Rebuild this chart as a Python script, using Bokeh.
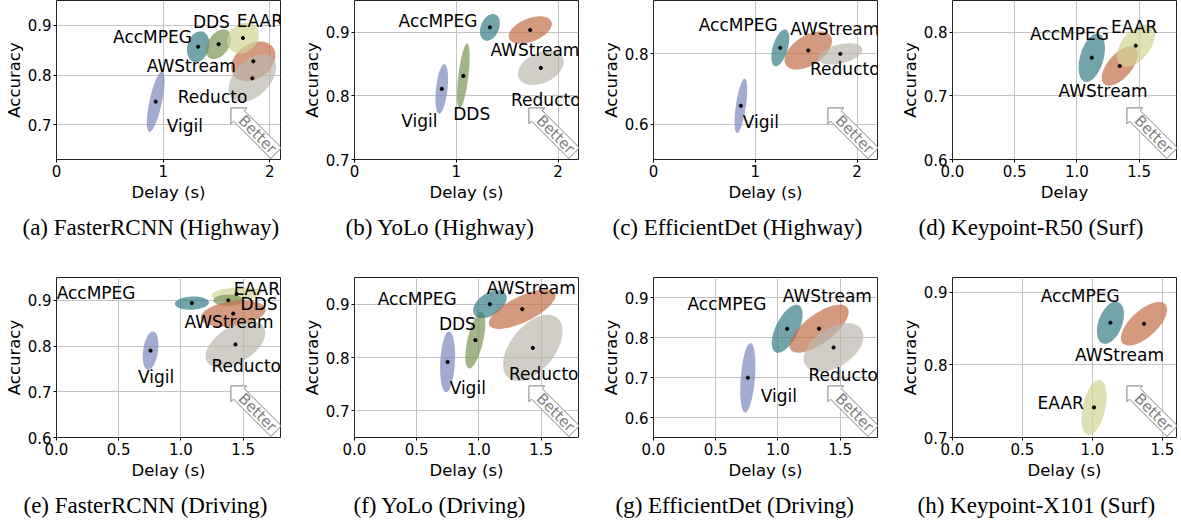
import numpy as np
from bokeh.plotting import figure
from bokeh.layouts import row, column
from bokeh.models import Range1d, Title, ColumnDataSource, FixedTicker
from bokeh.core.properties import value
from bokeh.embed import file_html
from bokeh.resources import INLINE

# ---------------- data ----------------
# (a) FasterRCNN (Highway)
a_methods = ["Vigil", "AccMPEG", "DDS", "AWStream", "EAAR", "Reducto"]
a_delay = [0.930, 1.328, 1.520, 1.845, 1.748, 1.836]
a_acc = [0.7465, 0.857, 0.862, 0.8276, 0.8745, 0.7934]
a_delay_sd = [0.083, 0.105, 0.119, 0.207, 0.149, 0.222]
a_acc_sd = [0.061, 0.031, 0.030, 0.040, 0.031, 0.048]
a_corr = [0.7, 0.2, 0.4, 0.3, 0.2, 0.45]

# (b) YoLo (Highway)
b_methods = ["Vigil", "AccMPEG", "DDS", "AWStream", "Reducto"]
b_delay = [0.857, 1.330, 1.069, 1.726, 1.830]
b_acc = [0.811, 0.9078, 0.8314, 0.9036, 0.844]
b_delay_sd = [0.062, 0.098, 0.062, 0.212, 0.225]
b_acc_sd = [0.039, 0.021, 0.051, 0.0215, 0.027]
b_corr = [0.4, 0.3, 0.6, 0.45, 0.35]

# (c) EfficientDet (Highway)
c_methods = ["Vigil", "AccMPEG", "AWStream", "Reducto"]
c_delay = [0.858, 1.245, 1.520, 1.835]
c_acc = [0.652, 0.816, 0.8085, 0.799]
c_delay_sd = [0.062, 0.088, 0.233, 0.218]
c_acc_sd = [0.077, 0.052, 0.054, 0.030]
c_corr = [0.6, 0.5, 0.5, 0.4]

# (d) Keypoint-R50 (Surf)
d_methods = ["AccMPEG", "AWStream", "EAAR"]
d_delay = [1.119, 1.344, 1.473]
d_acc = [0.760, 0.747, 0.779]
d_delay_sd = [0.106, 0.145, 0.152]
d_acc_sd = [0.038, 0.031, 0.033]
d_corr = [0.4, 0.6, 0.5]

# (e) FasterRCNN (Driving)
e_methods = ["Vigil", "AccMPEG", "EAAR", "DDS", "AWStream", "Reducto"]
e_delay = [0.756, 1.088, 1.447, 1.380, 1.420, 1.438]
e_acc = [0.790, 0.894, 0.914, 0.900, 0.871, 0.8035]
e_delay_sd = [0.063, 0.137, 0.200, 0.120, 0.260, 0.240]
e_acc_sd = [0.042, 0.0145, 0.0145, 0.0125, 0.029, 0.051]
e_corr = [0.3, 0.1, 0.2, 0.0, 0.3, 0.5]

# (f) YoLo (Driving)
f_methods = ["Vigil", "DDS", "AccMPEG", "AWStream", "Reducto"]
f_delay = [0.748, 0.971, 1.088, 1.348, 1.433]
f_acc = [0.7917, 0.8325, 0.900, 0.8906, 0.818]
f_delay_sd = [0.060, 0.080, 0.135, 0.268, 0.239]
f_acc_sd = [0.057, 0.053, 0.026, 0.037, 0.062]
f_corr = [0.2, 0.6, 0.45, 0.7, 0.5]

# (g) EfficientDet (Driving)
g_methods = ["Vigil", "AccMPEG", "AWStream", "Reducto"]
g_delay = [0.758, 1.074, 1.330, 1.447]
g_acc = [0.6994, 0.8218, 0.822, 0.775]
g_delay_sd = [0.061, 0.124, 0.238, 0.240]
g_acc_sd = [0.087, 0.060, 0.060, 0.061]
g_corr = [0.35, 0.6, 0.7, 0.45]

# (h) Keypoint-X101 (Surf)
h_methods = ["AccMPEG", "AWStream", "EAAR"]
h_delay = [1.128, 1.368, 1.011]
h_acc = [0.8578, 0.8564, 0.7414]
h_delay_sd = [0.097, 0.165, 0.090]
h_acc_sd = [0.029, 0.030, 0.038]
h_corr = [0.4, 0.65, 0.4]

# tick values / labels
x_ticks_int = [0, 1, 2]
x_labels_int = ["0", "1", "2"]
x_ticks_half = [0.0, 0.5, 1.0, 1.5]
x_labels_half = ["0.0", "0.5", "1.0", "1.5"]
y_ticks_789 = [0.7, 0.8, 0.9]
y_labels_789 = ["0.7", "0.8", "0.9"]
y_ticks_68 = [0.6, 0.8]
y_labels_68 = ["0.6", "0.8"]
y_ticks_678 = [0.6, 0.7, 0.8]
y_labels_678 = ["0.6", "0.7", "0.8"]
y_ticks_6789 = [0.6, 0.7, 0.8, 0.9]
y_labels_6789 = ["0.6", "0.7", "0.8", "0.9"]

# ---------------- styling / layout ----------------
COLORS = {"Vigil": "#7c88c1", "AccMPEG": "#387c88", "DDS": "#7c9556",
          "EAAR": "#d3d395", "AWStream": "#c16f4a", "Reducto": "#bab8ae"}
ALPHA = 0.7
SANS = "DejaVu Sans"
SERIF = "Liberation Serif"

# label placement (data coordinates, text centre)
a_label_pos = {"AccMPEG": (0.90, 0.877), "DDS": (1.452, 0.906), "EAAR": (1.906, 0.908),
               "AWStream": (1.264, 0.819), "Reducto": (1.463, 0.755), "Vigil": (1.203, 0.698)}
b_label_pos = {"AccMPEG": (0.82, 0.917), "AWStream": (1.772, 0.872), "Reducto": (1.879, 0.793),
               "DDS": (1.151, 0.771), "Vigil": (0.636, 0.760)}
c_label_pos = {"AccMPEG": (0.832, 0.880), "AWStream": (1.781, 0.870), "Reducto": (1.879, 0.755),
               "Vigil": (1.055, 0.605)}
d_label_pos = {"AccMPEG": (0.940, 0.797), "EAAR": (1.459, 0.808), "AWStream": (1.210, 0.707)}
e_label_pos = {"AccMPEG": (0.318, 0.916), "EAAR": (1.61, 0.9257), "DDS": (1.628, 0.8928),
               "AWStream": (1.387, 0.852), "Reducto": (1.525, 0.757), "Vigil": (0.80, 0.733)}
f_label_pos = {"AccMPEG": (0.504, 0.909), "AWStream": (1.42, 0.930), "DDS": (0.827, 0.863),
               "Reducto": (1.521, 0.769), "Vigil": (0.910, 0.742)}
g_label_pos = {"AccMPEG": (0.59, 0.885), "AWStream": (1.397, 0.903), "Reducto": (1.525, 0.706),
               "Vigil": (1.008, 0.653)}
h_label_pos = {"AccMPEG": (0.912, 0.895), "AWStream": (1.193, 0.813), "EAAR": (0.773, 0.748)}


def ellipse_xy(cx, cy, sx, sy, r, n=120):
    t = np.linspace(0, 2 * np.pi, n)
    xs = cx + sx * np.cos(t)
    ys = cy + sy * (r * np.cos(t) + np.sqrt(1 - r * r) * np.sin(t))
    return xs.tolist(), ys.tolist()


def add_better(p, xr, yr, fw, fh):
    pxx = fw / (xr[1] - xr[0])
    pxy = fh / (yr[1] - yr[0])
    cx = xr[1] - 23.0 / pxx
    cy = yr[0] + 25.0 / pxy
    h = 15.0
    L = 64.0
    hd = 0.75 * h
    sc = hd + (L - hd) / 2.0
    verts = [(0, 0), (hd, 0.75 * h), (hd, 0.5 * h), (L, 0.5 * h), (L, -0.5 * h),
             (hd, -0.5 * h), (hd, -0.75 * h)]
    k = 1 / np.sqrt(2)
    xs, ys = [], []
    for s, q in verts:
        rx = (s - sc) * k + q * k
        ry = -(s - sc) * k + q * k
        xs.append(cx + rx / pxx)
        ys.append(cy + ry / pxy)
    p.patch(xs, ys, fill_color="white", line_color="#808080", line_width=1)
    p.text(x=[cx], y=[cy], text=["Better"], angle=-np.pi / 4, text_align="center",
           text_baseline="middle", text_font=value(SANS), text_font_size=value("15px"),
           text_color="#808080")


def panel(methods, delay, acc, dsd, asd, corr, label_pos, xr, yr, xt, xtl, yt, ytl,
          xlabel, caption, cap_off, fw, fh, left, right, top, bottom):
    p = figure(frame_width=fw, frame_height=fh, min_border_left=left, min_border_right=right,
               min_border_top=top, min_border_bottom=bottom,
               x_range=Range1d(*xr), y_range=Range1d(*yr),
               toolbar_location=None, output_backend="svg", title=None)
    p.background_fill_color = "white"
    p.border_fill_color = "white"
    p.outline_line_color = "#222222"
    p.outline_line_width = 1

    xtk = FixedTicker(ticks=xt)
    ytk = FixedTicker(ticks=yt)
    p.xaxis.ticker = xtk
    p.yaxis.ticker = ytk
    p.xgrid.ticker = xtk
    p.ygrid.ticker = ytk
    p.xaxis.major_label_overrides = {t: l for t, l in zip(xt, xtl)}
    p.yaxis.major_label_overrides = {t: l for t, l in zip(yt, ytl)}
    for g in (p.xgrid, p.ygrid):
        g.grid_line_color = "#c4c4c4"
        g.grid_line_width = 1
    for ax in (p.xaxis, p.yaxis):
        ax.axis_line_color = None
        ax.major_tick_line_color = "black"
        ax.major_tick_out = 3
        ax.major_tick_in = 0
        ax.minor_tick_line_color = None
        ax.major_label_text_font = SANS
        ax.major_label_text_font_size = "15px"
        ax.major_label_text_color = "black"
        ax.axis_label_text_font = SANS
        ax.axis_label_text_font_size = "16.5px"
        ax.axis_label_text_font_style = "normal"
        ax.axis_label_text_color = "black"
    p.xaxis.major_label_standoff = 2
    p.xaxis.axis_label_standoff = 3
    p.yaxis.major_label_standoff = 2
    p.yaxis.axis_label_standoff = 1
    p.xaxis.axis_label = xlabel
    p.yaxis.axis_label = "Accuracy"

    for m, x, y, sx, sy, r in zip(methods, delay, acc, dsd, asd, corr):
        xs, ys = ellipse_xy(x, y, sx, sy, r)
        p.patch(xs, ys, fill_color=COLORS[m], fill_alpha=ALPHA, line_color=None)
    p.scatter(delay, acc, size=3.2, color="black")

    names = list(label_pos.keys())
    src = ColumnDataSource(dict(x=[label_pos[n][0] for n in names],
                                y=[label_pos[n][1] for n in names], t=names))
    p.text(x="x", y="y", text="t", source=src, text_align="center", text_baseline="middle",
           text_font=value(SANS), text_font_size=value("17px"), text_color="black")

    add_better(p, xr, yr, fw, fh)

    p.add_layout(Title(text=caption, align="left", offset=cap_off, text_font=SERIF,
                       text_font_size="23px", text_font_style="normal",
                       text_color="black", standoff=16), "below")
    return p


FH1, FH2 = 159, 160
LB = 56
pa = panel(a_methods, a_delay, a_acc, a_delay_sd, a_acc_sd, a_corr, a_label_pos,
           (0, 2.1), (0.63, 0.95), x_ticks_int, x_labels_int, y_ticks_789, y_labels_789,
           "Delay (s)", "(a) FasterRCNN (Highway)", -34, 224, FH1, LB, 18, 0, 60)
pb = panel(b_methods, b_delay, b_acc, b_delay_sd, b_acc_sd, b_corr, b_label_pos,
           (0, 2.2), (0.7, 0.95), x_ticks_int, x_labels_int, y_ticks_789, y_labels_789,
           "Delay (s)", "(b) YoLo (Highway)", -9, 224, FH1, LB, 19, 0, 60)
pc = panel(c_methods, c_delay, c_acc, c_delay_sd, c_acc_sd, c_corr, c_label_pos,
           (0, 2.2), (0.5, 0.95), x_ticks_int, x_labels_int, y_ticks_68, y_labels_68,
           "Delay (s)", "(c) EfficientDet (Highway)", -41, 224, FH1, LB, 19, 0, 60)
pd_ = panel(d_methods, d_delay, d_acc, d_delay_sd, d_acc_sd, d_corr, d_label_pos,
            (0, 1.8), (0.6, 0.85), x_ticks_half, x_labels_half, y_ticks_678, y_labels_678,
            "Delay", "(d) Keypoint-R50 (Surf)", -34, 224, FH1, LB, 1, 0, 60)
pe = panel(e_methods, e_delay, e_acc, e_delay_sd, e_acc_sd, e_corr, e_label_pos,
           (0, 1.8), (0.6, 0.95), x_ticks_half, x_labels_half, y_ticks_6789, y_labels_6789,
           "Delay (s)", "(e) FasterRCNN (Driving)", -33, 224, FH2, LB, 18, 30, 60)
pf = panel(f_methods, f_delay, f_acc, f_delay_sd, f_acc_sd, f_corr, f_label_pos,
           (0, 1.8), (0.65, 0.95), x_ticks_half, x_labels_half, y_ticks_789, y_labels_789,
           "Delay (s)", "(f) YoLo (Driving)", -1, 224, FH2, LB, 19, 30, 60)
pg = panel(g_methods, g_delay, g_acc, g_delay_sd, g_acc_sd, g_corr, g_label_pos,
           (0, 1.8), (0.55, 0.95), x_ticks_half, x_labels_half, y_ticks_6789, y_labels_6789,
           "Delay (s)", "(g) EfficientDet (Driving)", -38, 224, FH2, LB, 19, 30, 60)
ph = panel(h_methods, h_delay, h_acc, h_delay_sd, h_acc_sd, h_corr, h_label_pos,
           (0, 1.6), (0.7, 0.92), x_ticks_half, x_labels_half, y_ticks_789, y_labels_789,
           "Delay (s)", "(h) Keypoint-X101 (Surf)", -35, 224, FH2, LB, 1, 30, 60)

layout = column(row(pa, pb, pc, pd_), row(pe, pf, pg, ph))
open("out.html", "w").write(file_html(layout, INLINE))
